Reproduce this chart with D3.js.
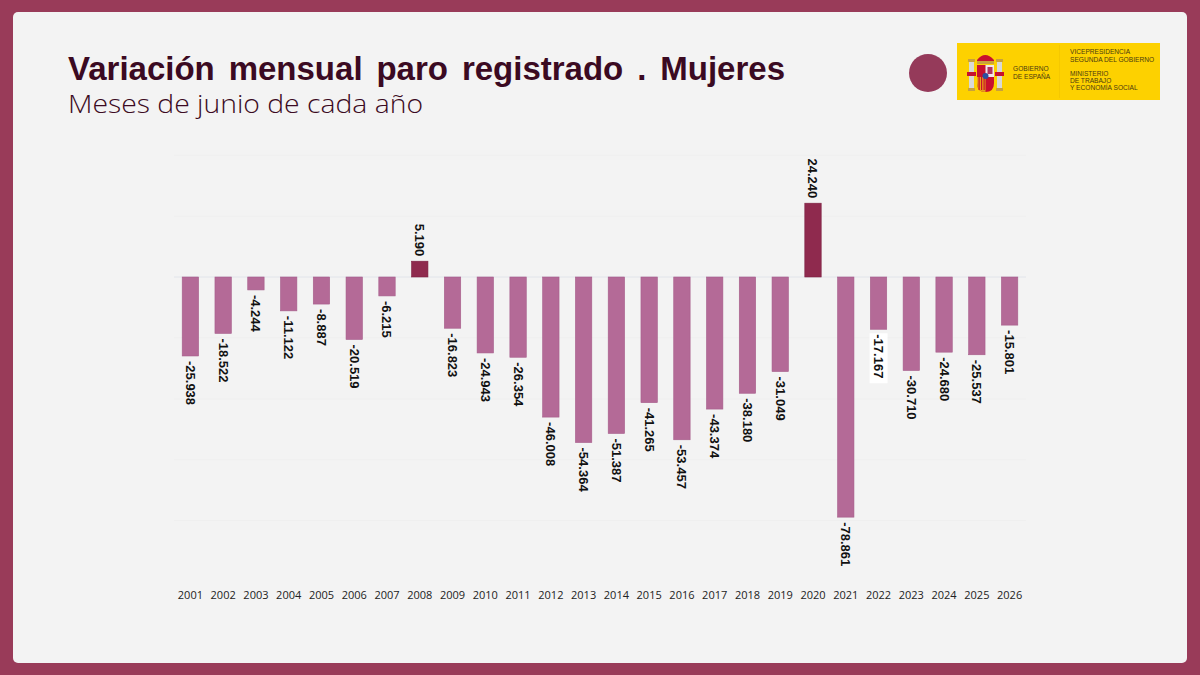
<!DOCTYPE html>
<html>
<head>
<meta charset="utf-8">
<style>
    body { margin: 0; background: #993b59; }
    svg { display: block; }
    .year text { font-family: "Open Sans", sans-serif; font-size: 11px; fill: #222; }
    .val { font-family: "Liberation Sans", Arial, sans-serif; font-weight: bold; font-size: 13px; fill: #111; }
    .ttl { font-family: "Liberation Sans", Arial, sans-serif; font-weight: bold; font-size: 33px; fill: #3b0a22; }
    .logo text { font-family: "Liberation Sans", Arial, sans-serif; font-size: 6.6px; fill: #4a3a10; }
</style>
</head>
<body>
<svg width="1200" height="675"></svg>

<script src="https://d3js.org/d3.v7.min.js"></script>
<script>
    // data
    let years = ["2001","2002","2003","2004","2005","2006","2007","2008","2009","2010","2011","2012","2013",
                 "2014","2015","2016","2017","2018","2019","2020","2021","2022","2023","2024","2025","2026"];
    let values = [-25938, -18522, -4244, -11122, -8887, -20519, -6215, 5190, -16823, -24943, -26354, -46008, -54364,
                  -51387, -41265, -53457, -43374, -38180, -31049, 24240, -78861, -17167, -30710, -24680, -25537, -15801];
    let gridValues = [-80000, -60000, -40000, -20000, 20000, 40000];

    let data = years.map((y, i) => ({ year: y, value: values[i] }));

    let width = 1200, height = 675;
    let svg = d3.select("svg");

    // frame
    svg.append("rect").attr("x", 0).attr("y", 0).attr("width", width).attr("height", height).attr("fill", "#993b59");
    svg.append("rect").attr("x", 13).attr("y", 12).attr("width", 1174).attr("height", 651)
        .attr("rx", 5).attr("fill", "#f3f3f3");

    // title, spread to the same width as the original
    let title = svg.append("text")
        .attr("class", "ttl")
        .attr("x", 68).attr("y", 80)
        .text("Variación mensual paro registrado . Mujeres");
    let tw = title.node().getComputedTextLength();
    title.style("word-spacing", Math.max(0, (717 - tw) / 5) + "px");

    svg.append("text")
        .attr("x", 68).attr("y", 113)
        .style("font-family", "'Open Sans', sans-serif")
        .style("font-weight", 300).style("font-size", "25px").style("fill", "#3b0a22")
        .attr("textLength", 355).attr("lengthAdjust", "spacingAndGlyphs")
        .text("Meses de junio de cada año");

    // scales
    let x = d3.scaleBand().domain(years).range([174, 1026]).paddingInner(0.5).paddingOuter(0.25);
    let y = d3.scaleLinear().domain([-80000, 40000]).range([520.6, 155.2]);

    // faint grid
    svg.append("g").selectAll("line").data(gridValues).join("line")
        .attr("x1", 174).attr("x2", 1026)
        .attr("y1", d => y(d)).attr("y2", d => y(d))
        .attr("stroke", "#efefef").attr("stroke-width", 1);
    svg.append("line").attr("x1", 174).attr("x2", 1026).attr("y1", y(0)).attr("y2", y(0))
        .attr("stroke", "#e1e4ea").attr("stroke-width", 1);

    // bars
    svg.append("g").selectAll("rect").data(data).join("rect")
        .attr("x", d => x(d.year))
        .attr("width", x.bandwidth())
        .attr("y", d => y(Math.max(0, d.value)))
        .attr("height", d => Math.abs(y(d.value) - y(0)))
        .attr("fill", d => d.value > 0 ? "#8f2a4e" : "#b46a97")
        .attr("stroke", d => d.value > 0 ? "#7d2142" : "#a65d8a")
        .attr("stroke-width", 0.6);

    // value labels (rotated)
    let es = d3.formatLocale({ decimal: ",", thousands: ".", grouping: [3], currency: ["", "€"], minus: "-" });
    let fmt = es.format(",d");

    let labels = svg.append("g").selectAll("g").data(data).join("g")
        .attr("transform", d => {
            let cx = x(d.year) + x.bandwidth() / 2;
            let yy = d.value > 0 ? y(d.value) - 5 : y(d.value) + 5;
            return `translate(${cx},${yy}) rotate(90)`;
        });
    // white box behind 2022 label, as in the reference
    labels.filter(d => d.year === "2022").append("rect")
        .attr("x", -1).attr("y", -9).attr("width", 50).attr("height", 18).attr("fill", "#ffffff");
    labels.append("text")
        .attr("class", "val")
        .attr("dy", "0.35em")
        .attr("text-anchor", d => d.value > 0 ? "end" : "start")
        .text(d => fmt(d.value));

    // year axis
    let xAxis = d3.axisBottom(x).tickSize(0).tickPadding(0);
    svg.append("g").attr("class", "year")
        .attr("transform", "translate(0,591)")
        .call(xAxis)
        .call(g => g.select(".domain").remove());

    // decorative circle
    svg.append("circle").attr("cx", 928).attr("cy", 73).attr("r", 19).attr("fill", "#953a5a");

    // logo block
    let logo = svg.append("g").attr("class", "logo");
    logo.append("rect").attr("x", 957).attr("y", 43).attr("width", 203).attr("height", 57).attr("fill", "#fdd100");
    logo.append("line").attr("x1", 1059.5).attr("x2", 1059.5).attr("y1", 45).attr("y2", 98)
        .attr("stroke", "#f0c400").attr("stroke-width", 0.7);

    // simplified coat of arms
    let arms = logo.append("g").attr("transform", "translate(968,52)");
    [[0, 0], [28, 0]].forEach(p => {
        arms.append("rect").attr("x", p[0] + 1).attr("y", 9).attr("width", 5).attr("height", 28).attr("fill", "#d8d8d8");
        arms.append("rect").attr("x", p[0]).attr("y", 7).attr("width", 7).attr("height", 3).attr("fill", "#c9a13b");
        arms.append("rect").attr("x", p[0]).attr("y", 36).attr("width", 7).attr("height", 3).attr("fill", "#c9a13b");
        arms.append("rect").attr("x", p[0] - 1).attr("y", 20).attr("width", 9).attr("height", 4).attr("fill", "#c8102e");
    });
    arms.append("path").attr("d", "M9,8 Q17,-2 26,8 L26,11 L9,11 Z").attr("fill", "#c8102e");
    arms.append("rect").attr("x", 9).attr("y", 9).attr("width", 17).attr("height", 3).attr("fill", "#c9a13b");
    arms.append("path").attr("d", "M9,13 L26,13 L26,31 Q26,40 17.5,40 Q9,40 9,31 Z").attr("fill", "#c8102e");
    arms.append("rect").attr("x", 17.5).attr("y", 13).attr("width", 8.5).attr("height", 12).attr("fill", "#f1e7ea");
    arms.append("path").attr("d", "M9,25 L17.5,25 L17.5,40 Q9,40 9,31 Z").attr("fill", "#e8a317");
    [10.5, 13, 15.5].forEach(sx => arms.append("rect").attr("x", sx).attr("y", 25).attr("width", 1.2).attr("height", 13).attr("fill", "#c8102e"));
    arms.append("circle").attr("cx", 17.5).attr("cy", 24).attr("r", 3).attr("fill", "#2d4fa0");
    arms.append("rect").attr("x", 19.5).attr("y", 15).attr("width", 5).attr("height", 7).attr("fill", "#b0345e");

    let txt = (xx, yy, s) => logo.append("text").attr("x", xx).attr("y", yy).text(s);
    txt(1013, 71, "GOBIERNO");
    txt(1013, 79, "DE ESPAÑA");
    txt(1070, 54, "VICEPRESIDENCIA");
    txt(1070, 62, "SEGUNDA DEL GOBIERNO");
    txt(1070, 76, "MINISTERIO");
    txt(1070, 83, "DE TRABAJO");
    txt(1070, 90, "Y ECONOMÍA SOCIAL");
</script>
</body>
</html>
